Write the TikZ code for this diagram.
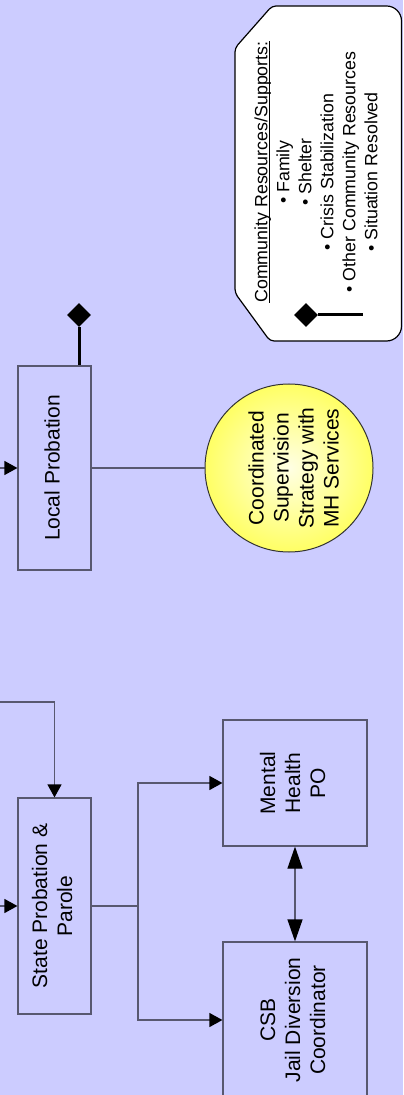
\documentclass[tikz,border=0pt]{standalone}
\usepackage{fontspec}
\setmainfont{Liberation Sans}
\usepackage{graphicx}
\usetikzlibrary{arrows.meta,shapes.geometric}
\definecolor{lavender}{RGB}{204,204,255}
\definecolor{wire}{RGB}{88,88,112}
\definecolor{sun}{RGB}{255,255,100}
\definecolor{suncore}{RGB}{255,255,228}
\newcommand{\vtext}[1]{\rotatebox{90}{\begin{tabular}{@{}c@{}}#1\end{tabular}}}
\newcommand{\uln}[1]{\setbox0\hbox{#1}\rlap{\rule[-1.3pt]{\wd0}{0.5pt}}\box0}
\tikzset{box/.style={draw=wire,rectangle,line width=0.6pt,inner sep=0pt,font=\fontsize{10.5}{12.5}\selectfont},
  hub/.style={draw=black!80,circle,line width=0.5pt,shading=radial,inner color=suncore,outer color=sun,minimum size=84pt,inner sep=0pt,font=\fontsize{10.5}{12.5}\selectfont},
  link/.style={wire,line width=0.6pt},
  tip/.style={-{Triangle[length=6.5pt,width=7pt,color=black]}},
  twin/.style={{Triangle[length=11pt,width=7.5pt,color=black]}-{Triangle[length=11pt,width=7.5pt,color=black]}},
  knob/.style={diamond,fill=black,draw=none,minimum size=12pt,inner sep=0pt},
  stem/.style={black,line width=1.5pt}}

\begin{document}
\begin{tikzpicture}[x=0.5pt,y=-0.5pt]
  \useasboundingbox (0,0) rectangle (403,1095);
  \clip (0,0) rectangle (403,1095);
  \fill[lavender] (0,0) rectangle (403,1095);
  \node[box,minimum width=36.5pt,minimum height=102pt] (lp) at (54.5,468) {\vtext{Local Probation}};
  \node[box,minimum width=36.5pt,minimum height=108pt] (spp) at (54.5,906) {\vtext{State Probation \&\\Parole}};
  \node[box,minimum width=72pt,minimum height=63pt] (mh) at (295,783) {\vtext{Mental\\Health\\PO}};
  \node[box,minimum width=72pt,minimum height=78pt] (csb) at (295,1020) {\vtext{CSB\\Jail Diversion\\Coordinator}};
  \node[hub] (css) at (289,468) {\rotatebox{90}{\raisebox{-3.5pt}[\height][\depth]{\begin{tabular}{@{}c@{}}Coordinated\\Supervision\\Strategy with\\MH Services\end{tabular}}}};
  \node[knob] (lpd) at (79,315) {};
  \coordinate (inlp) at (0,468);
  \coordinate (intop) at (0,702);
  \coordinate (inspp) at (0,906);
  \coordinate (fork) at (138,906);
  \draw[link,tip] (inlp) -- (lp);
  \draw[link,tip] (intop) -| (spp);
  \draw[link,tip] (inspp) -- (spp);
  \draw[link] (lp) -- (css);
  \draw[stem] (lpd.south) -- (lpd |- lp.north);
  \draw[link] (spp) -- (fork);
  \draw[link,tip] (fork) |- (mh);
  \draw[link,tip] (fork) |- (csb);
  \draw[link,twin] (mh) -- (csb);
  \filldraw[fill=white,draw=black,line width=0.6pt,rounded corners=2pt] (235,170) -- (235,48) -- (272,6)
    [rounded corners=7.5pt] -- (401.5,6) -- (401.5,341) [rounded corners=2pt] -- (270,341) -- (235,293) -- cycle;
  \node[font=\fontsize{8.9}{11}\selectfont,inner sep=0pt] (cr) at (318,172)
    {\vtext{\uln{Community Resources/Supports:}\\\textbullet{} Family\\\textbullet{} Shelter\\\textbullet{} Crisis Stabilization\\\textbullet{} Other Community Resources\\\textbullet{} Situation Resolved}};
  \node[knob] (key) at (306,315) {};
  \coordinate (keyend) at (363,315);
  \draw[stem] (key.east) -- (keyend);
\end{tikzpicture}
\end{document}
